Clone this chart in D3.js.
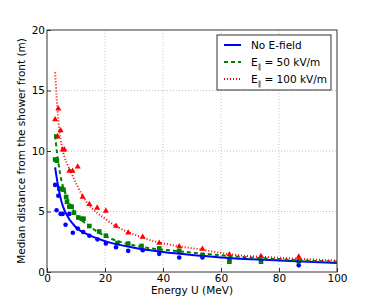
<!DOCTYPE html>
<html>
<head>
<meta charset="utf-8">
<script src="https://cdn.jsdelivr.net/npm/d3@7"></script>
<style>
  body { margin: 0; background: #fff; }
  svg text { font-family: "DejaVu Sans", sans-serif; }
</style>
</head>
<body>
<div id="chart"></div>
<script>
"use strict";

// measured points (energy MeV, median distance m)
const noFieldPts = [
  [2.8, 7.2], [3.3, 5.1], [3.9, 6.3], [4.7, 4.8], [5.4, 4.8], [6.4, 3.9],
  [7.7, 4.8], [8.9, 3.25], [10.6, 3.6], [12.5, 3.3], [14.6, 3.0], [17.4, 2.7],
  [20.3, 2.35], [23.8, 2.05], [28, 1.75], [33, 1.8], [38.7, 1.5], [45.6, 1.2],
  [53.6, 1.2], [62.9, 1.0], [73.8, 0.95], [86.8, 0.55]
];
const field50Pts = [
  [2.8, 9.3], [3.2, 11.2], [3.4, 9.2], [4.2, 6.9], [5.1, 6.85], [5.7, 6.8],
  [6.6, 6.2], [6.9, 5.8], [7.7, 5.4], [8.5, 5.4], [9.3, 4.9], [10.8, 4.5],
  [12, 4.4], [12.6, 4.4], [14.6, 3.8], [18, 3.35], [20.3, 3.0], [24.3, 2.4],
  [28, 2.35], [32.6, 2.15], [38.7, 1.95], [45.6, 1.75], [53.6, 1.4],
  [62.9, 0.85], [73.8, 0.85], [86.8, 0.9]
];
const field100Pts = [
  [2.8, 12.6], [3.6, 11.2], [3.9, 13.5], [4.7, 11.7], [5.4, 10.1], [6.0, 10.1],
  [7.7, 8.35], [8.8, 8.35], [10.6, 8.7], [12.3, 6.2], [14.6, 5.6], [17.3, 5.3],
  [20.3, 5.05], [23.8, 3.8], [28, 3.25], [33, 2.9], [38.7, 2.4], [45.6, 2.1],
  [53.6, 1.9], [62.9, 1.45], [73.8, 1.3], [86.8, 1.25]
];

// fitted curves
const noFieldFit = [
  [2.8, 8.65], [3.9, 7.0], [5, 5.8], [6.4, 4.9], [10, 3.7], [15, 3.0],
  [20, 2.55], [30, 2.0], [40, 1.65], [52.8, 1.35], [60, 1.2], [80, 0.95], [100, 0.75]
];
const field50Fit = [
  [2.8, 11.3], [3.1, 10.6], [4.5, 8.15], [6.8, 6.2], [9.1, 5.1], [14.8, 3.75],
  [20.6, 2.92], [32, 2.1], [43.6, 1.76], [52.8, 1.54], [70, 1.2], [85, 1.0], [100, 0.85]
];
const field100Fit = [
  [2.8, 16.5], [3.3, 14.5], [3.9, 12.6], [4.7, 10.9], [5.1, 10.4], [8.5, 8.15],
  [12.5, 6.2], [20.6, 4.3], [32, 2.92], [43.6, 2.2], [52.8, 1.87], [60.8, 1.54],
  [83.8, 1.13], [100, 0.95]
];

const xTicks = [0, 20, 40, 60, 80, 100];
const yTicks = [0, 5, 10, 15, 20];
const seriesNames = ["No E-field", "E\u2225 = 50 kV/m", "E\u2225 = 100 kV/m"];

const W = 374, H = 303;
const margin = { top: 30, right: 37, bottom: 31, left: 47 };
const iw = W - margin.left - margin.right;
const ih = H - margin.top - margin.bottom;

const svg = d3.select("#chart").append("svg")
  .attr("width", W).attr("height", H);

const g = svg.append("g")
  .attr("transform", "translate(" + margin.left + "," + margin.top + ")");

const x = d3.scaleLinear().domain([0, 100]).range([0, iw]);
const y = d3.scaleLinear().domain([0, 20]).range([ih, 0]);

svg.append("defs").append("clipPath").attr("id", "clip")
  .append("rect").attr("width", iw).attr("height", ih);

// grid
g.append("g").selectAll("line").data(xTicks.slice(1, -1)).enter().append("line")
  .attr("x1", d => x(d)).attr("x2", d => x(d)).attr("y1", 0).attr("y2", ih)
  .attr("stroke", "#b0b0b0").attr("stroke-width", 0.8).attr("stroke-dasharray", "1,2");
g.append("g").selectAll("line").data(yTicks.slice(1, -1)).enter().append("line")
  .attr("y1", d => y(d)).attr("y2", d => y(d)).attr("x1", 0).attr("x2", iw)
  .attr("stroke", "#b0b0b0").attr("stroke-width", 0.8).attr("stroke-dasharray", "1,2");

// axes, matplotlib classic: ticks inward
const xAxis = d3.axisBottom(x).tickValues(xTicks).tickSizeInner(-4).tickSizeOuter(0).tickPadding(3);
const yAxis = d3.axisLeft(y).tickValues(yTicks).tickSizeInner(-4).tickSizeOuter(0).tickPadding(2);
const xg = g.append("g").attr("transform", "translate(0," + ih + ")").call(xAxis);
const yg = g.append("g").call(yAxis);
[xg, yg].forEach(a => {
  a.select(".domain").remove();
  a.selectAll("text").attr("font-size", 10.5).attr("fill", "#000");
  a.selectAll("line").attr("stroke", "#333");
});
// pull x tick labels snug under the axis
xg.selectAll("text").attr("dy", "0.65em");

const plot = g.append("g").attr("clip-path", "url(#clip)");
const line = d3.line().x(d => x(d[0])).y(d => y(d[1])).curve(d3.curveMonotoneX);

// markers
plot.append("g").selectAll("circle").data(noFieldPts).enter().append("circle")
  .attr("cx", d => x(d[0])).attr("cy", d => y(d[1])).attr("r", 2.3).attr("fill", "#0000ff");
plot.append("g").selectAll("rect").data(field50Pts).enter().append("rect")
  .attr("x", d => x(d[0]) - 2.3).attr("y", d => y(d[1]) - 2.3)
  .attr("width", 4.6).attr("height", 4.6).attr("fill", "#008000");
const tri = d3.symbol().type(d3.symbolTriangle).size(16);
plot.append("g").selectAll("path").data(field100Pts).enter().append("path")
  .attr("transform", d => "translate(" + x(d[0]) + "," + y(d[1]) + ")")
  .attr("d", tri).attr("fill", "#ff0000");

// fitted curves
plot.append("path").datum(noFieldFit).attr("d", line)
  .attr("fill", "none").attr("stroke", "#0000ff").attr("stroke-width", 2);
plot.append("path").datum(field50Fit).attr("d", line)
  .attr("fill", "none").attr("stroke", "#008000").attr("stroke-width", 2)
  .attr("stroke-dasharray", "4,3");
plot.append("path").datum(field100Fit).attr("d", line)
  .attr("fill", "none").attr("stroke", "#ff0000").attr("stroke-width", 2)
  .attr("stroke-dasharray", "1,2");

// frame
g.append("rect").attr("width", iw).attr("height", ih)
  .attr("fill", "none").attr("stroke", "#333").attr("stroke-width", 1);

// axis labels
svg.append("text").attr("x", margin.left + iw / 2).attr("y", 294)
  .attr("text-anchor", "middle").attr("font-size", 10.5).text("Energy U (MeV)");
svg.append("text")
  .attr("transform", "translate(" + 25 + "," + (margin.top + ih / 2) + ") rotate(-90)")
  .attr("text-anchor", "middle").attr("font-size", 10.5)
  .text("Median distance from the shower front (m)");

// legend
const lg = g.append("g").attr("transform", "translate(" + (iw - 120) + ",5)");
lg.append("rect").attr("width", 114).attr("height", 55)
  .attr("fill", "#fff").attr("stroke", "#000").attr("stroke-width", 0.8);
const legStyles = [
  { color: "#0000ff", dash: null },
  { color: "#008000", dash: "4,3" },
  { color: "#ff0000", dash: "1,2" }
];
seriesNames.forEach((name, i) => {
  const yy = 10 + i * 17;
  lg.append("line").attr("x1", 7).attr("x2", 24).attr("y1", yy).attr("y2", yy)
    .attr("stroke", legStyles[i].color).attr("stroke-width", 2)
    .attr("stroke-dasharray", legStyles[i].dash);
  const t = lg.append("text").attr("x", 34).attr("y", yy + 4).attr("font-size", 10.5);
  if (i === 0) {
    t.text(name);
  } else {
    t.append("tspan").text("E");
    t.append("tspan").attr("dy", 3).attr("font-size", 7).text("\u2225");
    t.append("tspan").attr("dy", -3).text(name.slice(2));
  }
});
</script>
</body>
</html>
